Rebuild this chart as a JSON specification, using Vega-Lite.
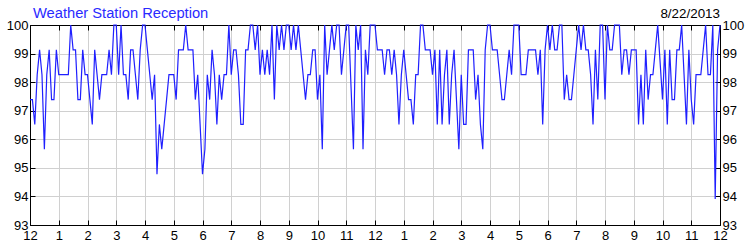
{
  "$schema": "https://vega.github.io/schema/vega-lite/v6.json",
  "width": 690,
  "height": 200,
  "autosize": {"type": "none"},
  "padding": {"left": 30, "top": 25, "right": 30, "bottom": 25},
  "background": "white",
  "config": {
    "view": {"stroke": "black", "strokeWidth": 1},
    "axis": {"labelFont": "Liberation Sans", "labelFontSize": 13, "labelColor": "#000000", "domainColor": "black", "tickColor": "black", "gridColor": "#d0d0d0", "gridOpacity": 1, "titleFont": "Liberation Sans"}
  },
  "data": {"values": [
{"m":0,"v":97.39},{"m":5,"v":97.39},{"m":10,"v":96.52},{"m":15,"v":98.26},{"m":20,"v":99.13},{"m":25,"v":98.26},{"m":30,"v":95.65},{"m":35,"v":98.26},{"m":40,"v":99.13},{"m":45,"v":97.39},{"m":50,"v":97.39},{"m":55,"v":99.13},
{"m":60,"v":98.26},{"m":65,"v":98.26},{"m":70,"v":98.26},{"m":75,"v":98.26},{"m":80,"v":98.26},{"m":85,"v":100},{"m":90,"v":99.13},{"m":95,"v":99.13},{"m":100,"v":97.39},{"m":105,"v":97.39},{"m":110,"v":99.13},{"m":115,"v":98.26},
{"m":120,"v":98.26},{"m":125,"v":97.39},{"m":130,"v":96.52},{"m":135,"v":99.13},{"m":140,"v":98.26},{"m":145,"v":97.39},{"m":150,"v":98.26},{"m":155,"v":98.26},{"m":160,"v":98.26},{"m":165,"v":99.13},{"m":170,"v":98.26},{"m":175,"v":100},
{"m":180,"v":100},{"m":185,"v":98.26},{"m":190,"v":100},{"m":195,"v":98.26},{"m":200,"v":98.26},{"m":205,"v":97.39},{"m":210,"v":99.13},{"m":215,"v":99.13},{"m":220,"v":98.26},{"m":225,"v":97.39},{"m":230,"v":99.13},{"m":235,"v":100},
{"m":240,"v":100},{"m":245,"v":99.13},{"m":250,"v":98.26},{"m":255,"v":97.39},{"m":260,"v":98.26},{"m":265,"v":94.78},{"m":270,"v":96.52},{"m":275,"v":95.65},{"m":280,"v":96.52},{"m":285,"v":97.39},{"m":290,"v":98.26},{"m":295,"v":98.26},
{"m":300,"v":98.26},{"m":305,"v":97.39},{"m":310,"v":99.13},{"m":315,"v":99.13},{"m":320,"v":99.13},{"m":325,"v":100},{"m":330,"v":99.13},{"m":335,"v":99.13},{"m":340,"v":99.13},{"m":345,"v":97.39},{"m":350,"v":98.26},{"m":355,"v":96.52},
{"m":360,"v":94.78},{"m":365,"v":95.65},{"m":370,"v":98.26},{"m":375,"v":97.39},{"m":380,"v":99.13},{"m":385,"v":98.26},{"m":390,"v":96.52},{"m":395,"v":98.26},{"m":400,"v":97.39},{"m":405,"v":98.26},{"m":410,"v":98.26},{"m":415,"v":100},
{"m":420,"v":98.26},{"m":425,"v":99.13},{"m":430,"v":99.13},{"m":435,"v":98.26},{"m":440,"v":96.52},{"m":445,"v":96.52},{"m":450,"v":99.13},{"m":455,"v":99.13},{"m":460,"v":100},{"m":465,"v":100},{"m":470,"v":99.13},{"m":475,"v":100},
{"m":480,"v":98.26},{"m":485,"v":99.13},{"m":490,"v":98.26},{"m":495,"v":99.13},{"m":500,"v":98.26},{"m":505,"v":100},{"m":510,"v":97.39},{"m":515,"v":100},{"m":520,"v":99.13},{"m":525,"v":100},{"m":530,"v":99.13},{"m":535,"v":100},
{"m":540,"v":100},{"m":545,"v":99.13},{"m":550,"v":100},{"m":555,"v":99.13},{"m":560,"v":100},{"m":565,"v":99.13},{"m":570,"v":98.26},{"m":575,"v":97.39},{"m":580,"v":98.26},{"m":585,"v":98.26},{"m":590,"v":99.13},{"m":595,"v":99.13},
{"m":600,"v":97.39},{"m":605,"v":98.26},{"m":610,"v":95.65},{"m":615,"v":100},{"m":620,"v":98.26},{"m":625,"v":99.13},{"m":630,"v":100},{"m":635,"v":99.13},{"m":640,"v":100},{"m":645,"v":100},{"m":650,"v":98.26},{"m":655,"v":99.13},
{"m":660,"v":100},{"m":665,"v":100},{"m":670,"v":97.83},{"m":675,"v":95.65},{"m":680,"v":100},{"m":685,"v":99.13},{"m":690,"v":100},{"m":695,"v":95.65},{"m":700,"v":99.13},{"m":705,"v":98.26},{"m":710,"v":100},{"m":715,"v":100},
{"m":720,"v":100},{"m":725,"v":99.13},{"m":730,"v":99.13},{"m":735,"v":99.13},{"m":740,"v":98.26},{"m":745,"v":99.13},{"m":750,"v":99.13},{"m":755,"v":98.26},{"m":760,"v":99.13},{"m":765,"v":98.26},{"m":770,"v":96.52},{"m":775,"v":98.26},
{"m":780,"v":99.13},{"m":785,"v":98.26},{"m":790,"v":97.39},{"m":795,"v":97.39},{"m":800,"v":96.52},{"m":805,"v":98.26},{"m":810,"v":98.26},{"m":815,"v":100},{"m":820,"v":100},{"m":825,"v":99.13},{"m":830,"v":99.13},{"m":835,"v":99.13},
{"m":840,"v":98.26},{"m":845,"v":99.13},{"m":850,"v":96.52},{"m":855,"v":99.13},{"m":860,"v":96.52},{"m":865,"v":98.26},{"m":870,"v":99.13},{"m":875,"v":96.52},{"m":880,"v":98.26},{"m":885,"v":99.13},{"m":890,"v":97.39},{"m":895,"v":95.65},
{"m":900,"v":98.26},{"m":905,"v":96.52},{"m":910,"v":96.52},{"m":915,"v":99.13},{"m":920,"v":99.13},{"m":925,"v":99.13},{"m":930,"v":97.39},{"m":935,"v":98.26},{"m":940,"v":96.52},{"m":945,"v":95.65},{"m":950,"v":99.13},{"m":955,"v":100},
{"m":960,"v":100},{"m":965,"v":99.13},{"m":970,"v":99.13},{"m":975,"v":99.13},{"m":980,"v":98.26},{"m":985,"v":97.39},{"m":990,"v":97.39},{"m":995,"v":98.26},{"m":1000,"v":99.13},{"m":1005,"v":98.26},{"m":1010,"v":100},{"m":1015,"v":100},
{"m":1020,"v":100},{"m":1025,"v":98.26},{"m":1030,"v":98.26},{"m":1035,"v":98.26},{"m":1040,"v":99.13},{"m":1045,"v":99.13},{"m":1050,"v":99.13},{"m":1055,"v":99.13},{"m":1060,"v":98.26},{"m":1065,"v":99.13},{"m":1070,"v":96.52},{"m":1075,"v":99.13},
{"m":1080,"v":100},{"m":1085,"v":99.13},{"m":1090,"v":100},{"m":1095,"v":99.13},{"m":1100,"v":99.13},{"m":1105,"v":100},{"m":1110,"v":100},{"m":1115,"v":97.39},{"m":1120,"v":98.26},{"m":1125,"v":97.39},{"m":1130,"v":97.39},{"m":1135,"v":98.26},
{"m":1140,"v":99.13},{"m":1145,"v":100},{"m":1150,"v":99.13},{"m":1155,"v":100},{"m":1160,"v":99.13},{"m":1165,"v":99.13},{"m":1170,"v":98.26},{"m":1175,"v":96.52},{"m":1180,"v":99.13},{"m":1185,"v":97.39},{"m":1190,"v":100},{"m":1195,"v":100},
{"m":1200,"v":97.39},{"m":1205,"v":100},{"m":1210,"v":99.13},{"m":1215,"v":99.13},{"m":1220,"v":100},{"m":1225,"v":100},{"m":1230,"v":100},{"m":1235,"v":98.26},{"m":1240,"v":99.13},{"m":1245,"v":99.13},{"m":1250,"v":98.26},{"m":1255,"v":99.13},
{"m":1260,"v":99.13},{"m":1265,"v":99.13},{"m":1270,"v":96.52},{"m":1275,"v":98.26},{"m":1280,"v":96.52},{"m":1285,"v":99.13},{"m":1290,"v":97.39},{"m":1295,"v":98.26},{"m":1300,"v":98.26},{"m":1305,"v":99.13},{"m":1310,"v":100},{"m":1315,"v":98.7},
{"m":1320,"v":97.39},{"m":1325,"v":99.13},{"m":1330,"v":96.52},{"m":1335,"v":99.13},{"m":1340,"v":97.39},{"m":1345,"v":97.39},{"m":1350,"v":99.13},{"m":1355,"v":99.13},{"m":1360,"v":100},{"m":1365,"v":98.26},{"m":1370,"v":96.52},{"m":1375,"v":99.13},
{"m":1380,"v":97.39},{"m":1385,"v":96.52},{"m":1390,"v":98.26},{"m":1395,"v":98.26},{"m":1400,"v":98.26},{"m":1405,"v":99.13},{"m":1410,"v":100},{"m":1415,"v":98.26},{"m":1420,"v":98.26},{"m":1425,"v":100},{"m":1430,"v":93.91},{"m":1435,"v":99.13},
{"m":1440,"v":100}
  ]},
  "layer": [
    {
      "mark": {"type": "line", "color": "#1f1fff", "strokeWidth": 1.2},
      "encoding": {
        "x": {"field": "m", "type": "quantitative", "scale": {"domain": [0, 1440], "nice": false},
              "axis": {"orient": "bottom", "title": null, "values": [0,60,120,180,240,300,360,420,480,540,600,660,720,780,840,900,960,1020,1080,1140,1200,1260,1320,1380,1440],
                       "labelExpr": "(datum.value/60) % 12 == 0 ? '12' : '' + ((datum.value/60) % 12)", "grid": true, "tickSize": -5, "labelPadding": 9, "labelFlush": false, "labelOverlap": false}},
        "y": {"field": "v", "type": "quantitative", "scale": {"domain": [93, 100], "nice": false, "zero": false},
              "axis": {"orient": "left", "title": null, "values": [93,94,95,96,97,98,99,100], "grid": true, "tickSize": -5, "labelPadding": 7, "labelFlush": false, "labelOverlap": false}}
      }
    },
    {
      "mark": {"type": "line", "opacity": 0},
      "encoding": {
        "x": {"field": "m", "type": "quantitative", "scale": {"domain": [0, 1440], "nice": false},
              "axis": {"orient": "top", "title": null, "labels": false, "grid": false, "tickSize": -5, "values": [0,60,120,180,240,300,360,420,480,540,600,660,720,780,840,900,960,1020,1080,1140,1200,1260,1320,1380,1440]}},
        "y": {"field": "v", "type": "quantitative", "scale": {"domain": [93, 100], "nice": false, "zero": false},
              "axis": {"orient": "right", "title": null, "values": [93,94,95,96,97,98,99,100], "grid": false, "tickSize": -5, "labelPadding": 7, "labelFlush": false, "labelOverlap": false}}
      }
    },
    {
      "data": {"values": [{"x": 1440, "y": 100, "label": "8/22/2013"}]},
      "mark": {"type": "text", "align": "right", "baseline": "alphabetic", "dy": -7, "font": "Liberation Sans", "fontSize": 13.4, "fontWeight": "normal", "color": "black"},
      "encoding": {
        "x": {"field": "x", "type": "quantitative", "axis": null},
        "y": {"field": "y", "type": "quantitative", "axis": null},
        "text": {"field": "label"}
      }
    },
    {
      "data": {"values": [{"x": 0, "y": 100, "label": "Weather Station Reception"}]},
      "mark": {"type": "text", "align": "left", "baseline": "alphabetic", "dx": 3, "dy": -7, "font": "Liberation Sans", "fontSize": 14.7, "fontWeight": "normal", "color": "#2a2aff"},
      "encoding": {
        "x": {"field": "x", "type": "quantitative", "axis": null},
        "y": {"field": "y", "type": "quantitative", "axis": null},
        "text": {"field": "label"}
      }
    }
  ],
  "resolve": {"axis": {"x": "independent", "y": "independent"}}
}
